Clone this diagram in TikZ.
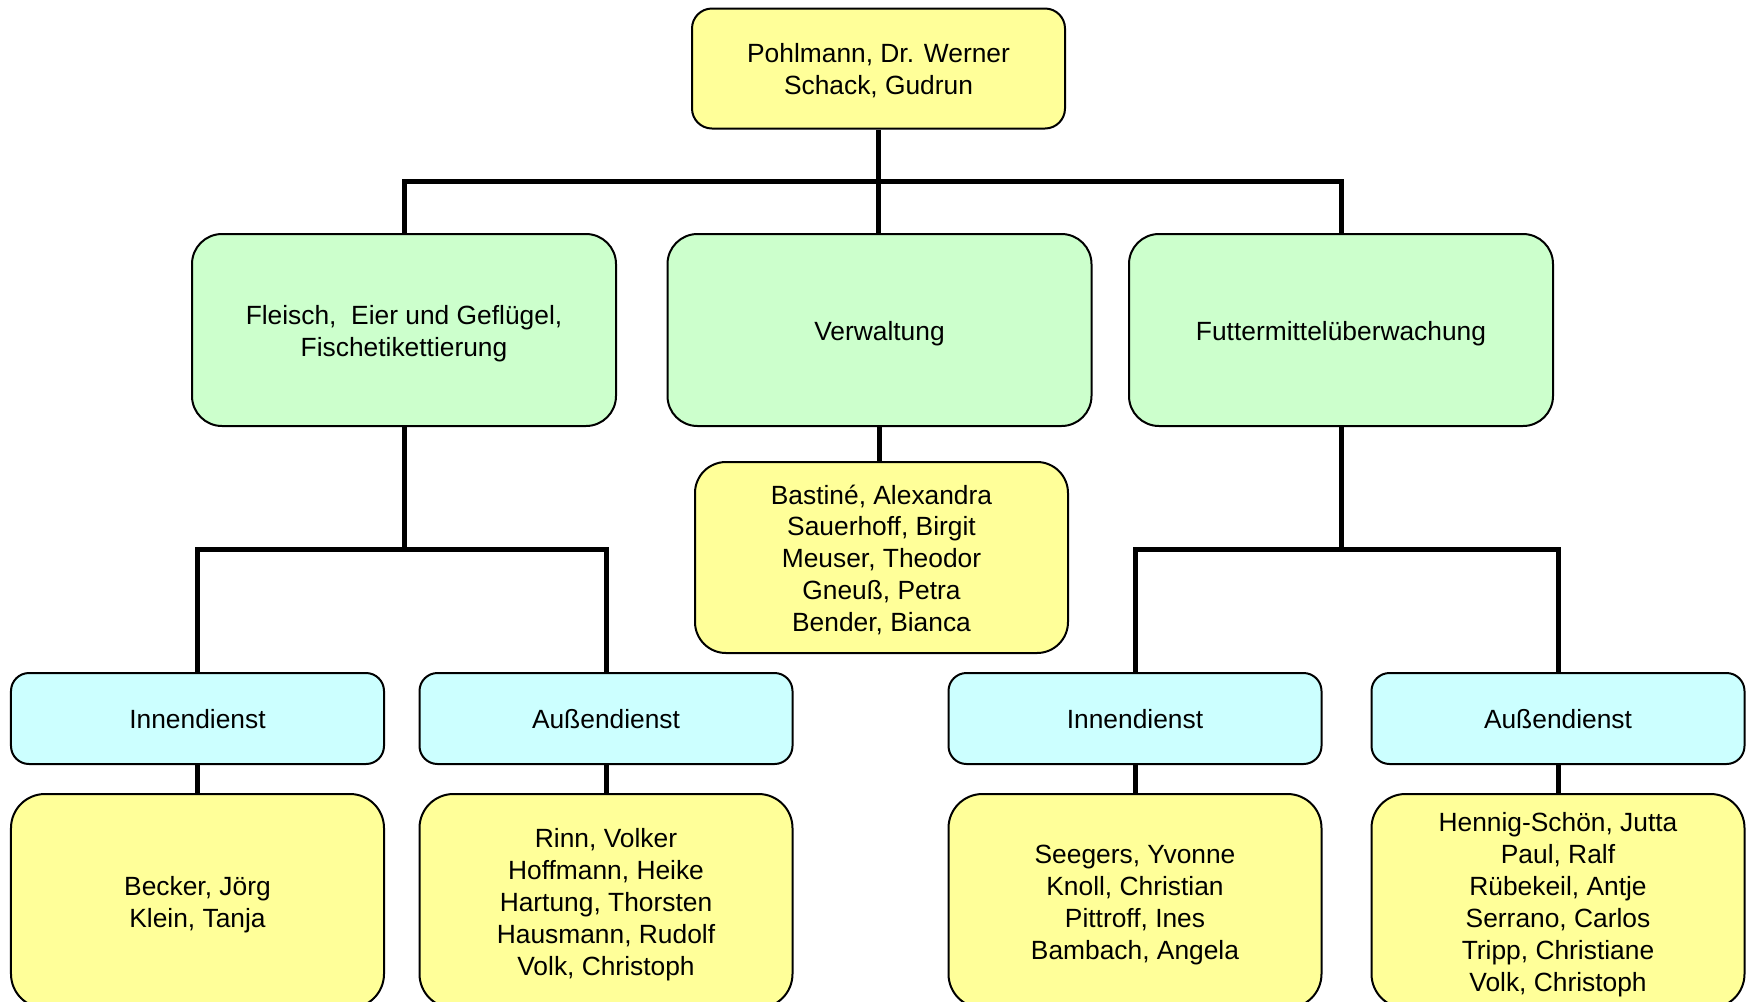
\documentclass[tikz,border=0pt]{standalone}
\usepackage{fontspec}
\setmainfont{Liberation Sans}
\usepackage{tikz}
\usetikzlibrary{positioning, calc}
\usepackage{xcolor}
\definecolor{nameyellow}{RGB}{255,255,153}
\definecolor{deptgreen}{RGB}{204,255,204}
\definecolor{servicecyan}{RGB}{204,255,255}

\begin{document}
\begin{tikzpicture}[
        nlines/.style={execute at begin node={\rule{0pt}{\dimexpr 15.4pt+18.2pt*(#1-1)\relax}\ignorespaces}},
        box/.style={draw, line width=0.04cm, align=center, inner sep=0pt,
            font=\fontsize{15}{18.2}\selectfont, nlines=1,
            execute at end node={\unskip\rule[-3.5pt]{0pt}{0pt}}},
        namebox/.style={box, fill=nameyellow},
        deptbox/.style={box, fill=deptgreen, rounded corners=0.6cm,
            minimum width=8.48cm, minimum height=3.84cm},
        servicebox/.style={box, fill=servicecyan, rounded corners=0.36cm,
            minimum width=7.46cm, minimum height=1.82cm},
        staffbox/.style={namebox, rounded corners=0.68cm,
            minimum width=7.46cm, minimum height=4.28cm},
        link/.style={line width=0.1cm}
    ]
        \useasboundingbox (0,0) rectangle (35,-20.02);

        % Head of the unit
        \node[namebox, nlines=2, rounded corners=0.4cm, minimum width=7.46cm, minimum height=2.4cm] (head) at (17.57,-1.37) {Pohlmann, Dr. Werner\\Schack, Gudrun};

        % Departments
        \node[deptbox, nlines=2] (meat) at (8.08,-6.6) {Fleisch,~ Eier und Geflügel,\\Fischetikettierung};
        \node[deptbox] (admin) at (17.59,-6.6) {Verwaltung};
        \node[deptbox] (feed) at (26.82,-6.6) {Futtermittelüberwachung};

        % Staff of the administration
        \node[namebox, nlines=5, rounded corners=0.62cm, minimum width=7.46cm, minimum height=3.82cm] (adminstaff) at (17.63,-11.15) {
            Bastiné, Alexandra\\
            Sauerhoff, Birgit\\
            Meuser, Theodor\\
            Gneuß, Petra\\
            Bender, Bianca
        };

        % Inside and field services
        \node[servicebox] (meatin) at (3.95,-14.37) {Innendienst};
        \node[servicebox] (meatout) at (12.12,-14.37) {Außendienst};
        \node[servicebox] (feedin) at (22.7,-14.37) {Innendienst};
        \node[servicebox] (feedout) at (31.16,-14.37) {Außendienst};

        % Staff of the services
        \node[staffbox, nlines=2] (meatinstaff) at (3.95,-18.02) {Becker, Jörg\\ Klein, Tanja};
        \node[staffbox, nlines=5] (meatoutstaff) at (12.12,-18.02) {
            Rinn, Volker\\
            Hoffmann, Heike\\
            Hartung, Thorsten\\
            Hausmann, Rudolf\\
            Volk, Christoph
        };
        \node[staffbox, nlines=4] (feedinstaff) at (22.7,-18.02) {
            Seegers, Yvonne\\
            Knoll, Christian\\
            Pittroff, Ines\\
            Bambach, Angela
        };
        \node[staffbox, nlines=6] (feedoutstaff) at (31.16,-18.02) {
            Hennig-Schön, Jutta\\
            Paul, Ralf\\
            Rübekeil, Antje\\
            Serrano, Carlos\\
            Tripp, Christiane\\
            Volk, Christoph
        };

        % Connectors
        \coordinate (topbar) at (17.57,-3.62);
        \coordinate (meatbar) at (8.08,-10.98);
        \coordinate (feedbar) at (26.82,-10.98);
        \draw[link] (head.south) -- (head.south |- admin.north);
        \draw[link] (meat.north) |- (topbar) -| (feed.north);
        \draw[link] (admin.south) -- (admin.south |- adminstaff.north);
        \draw[link] (meat.south) -- (meatbar);
        \draw[link] (meatin.north) |- (meatbar) -| (meatout.north);
        \draw[link] (feed.south) -- (feedbar);
        \draw[link] (feedin.north) |- (feedbar) -| (feedout.north);
        \draw[link] (meatin.south) -- (meatinstaff.north);
        \draw[link] (meatout.south) -- (meatoutstaff.north);
        \draw[link] (feedin.south) -- (feedinstaff.north);
        \draw[link] (feedout.south) -- (feedoutstaff.north);

    \end{tikzpicture}
\end{document}
